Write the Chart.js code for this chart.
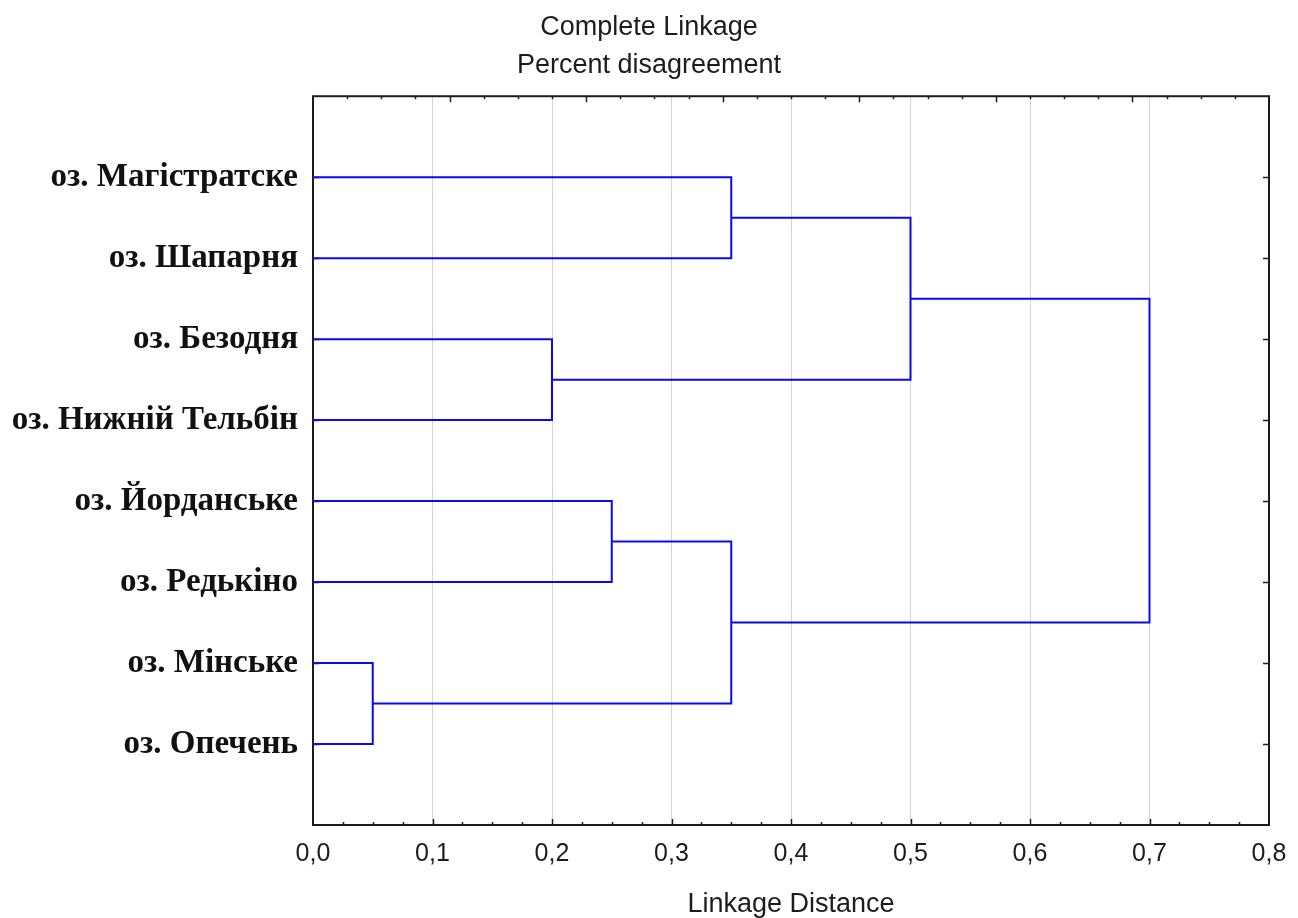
<!DOCTYPE html>
<html>
<head>
<meta charset="utf-8">
<script src="https://cdn.jsdelivr.net/npm/chart.js@4.4.1/dist/chart.umd.min.js"></script>
<style>
  html, body { margin: 0; padding: 0; background: #fff; }
  #wrap { width: 1298px; height: 918px; position: relative; }
</style>
</head>
<body>
<div id="wrap"><canvas id="dendro"></canvas></div>
<script>
// leaves, top to bottom (position 1..8 on the vertical axis)
const leaves = [
    'оз. Магістратске',
    'оз. Шапарня',
    'оз. Безодня',
    'оз. Нижній Тельбін',
    'оз. Йорданське',
    'оз. Редькіно',
    'оз. Мінське',
    'оз. Опечень'
];

// one entry per merge: height of the join, positions of the two branches,
// and the height each branch comes from
const mergeHeight     = [0.35, 0.20, 0.50, 0.25, 0.05, 0.35, 0.70];
const mergeUpperPos   = [1,    3,    1.5,  5,    7,    5.5,  2.5];
const mergeLowerPos   = [2,    4,    3.5,  6,    8,    7.5,  6.5];
const mergeUpperFrom  = [0,    0,    0.35, 0,    0,    0.25, 0.50];
const mergeLowerFrom  = [0,    0,    0.20, 0,    0,    0.05, 0.35];

const distanceTicks  = [0, 0.1, 0.2, 0.3, 0.4, 0.5, 0.6, 0.7, 0.8];
const distanceLabels = ['0,0', '0,1', '0,2', '0,3', '0,4', '0,5', '0,6', '0,7', '0,8'];
const topAxisMax = 7; // the frame's top ticks run on a 0..7 scale

const LINE_BLUE = '#0a0af0';
const INK = '#1c1c1c';
const SANS = "'Liberation Sans', Arial, sans-serif";

const datasets = mergeHeight.map((h, i) => ({
    data: [
        { x: mergeUpperFrom[i], y: mergeUpperPos[i] },
        { x: h, y: mergeUpperPos[i] },
        { x: h, y: mergeLowerPos[i] },
        { x: mergeLowerFrom[i], y: mergeLowerPos[i] }
    ],
    showLine: true,
    borderColor: LINE_BLUE,
    borderWidth: 2,
    pointRadius: 0,
    tension: 0,
    clip: false
}));

// frame + inward tick marks
const frameTicks = {
    id: 'frameTicks',
    beforeDatasetsDraw(chart) {
        const { ctx, chartArea: a, scales: { x, y } } = chart;
        const seg = (x1, y1, x2, y2) => {
            ctx.beginPath();
            ctx.moveTo(x1, y1);
            ctx.lineTo(x2, y2);
            ctx.stroke();
        };
        ctx.save();
        ctx.strokeStyle = INK;

        // bottom ticks: major every 0.1, minor every 0.025
        ctx.lineWidth = 1.5;
        for (let k = 1; k < 32; k++) {
            const px = Math.round(x.getPixelForValue(k * 0.025)) + 0.5;
            const len = k % 4 === 0 ? 6 : 3;
            seg(px, a.bottom, px, a.bottom - len);
        }
        // top ticks: 0..7 scale, minor every 0.25
        for (let k = 1; k < topAxisMax * 4; k++) {
            const v = (k / 4) * (x.max / topAxisMax);
            const px = Math.round(x.getPixelForValue(v)) + 0.5;
            const len = k % 4 === 0 ? 6 : 3;
            seg(px, a.top, px, a.top + len);
        }
        // left / right ticks at each leaf
        leaves.forEach((_, i) => {
            const py = Math.round(y.getPixelForValue(i + 1)) + 0.5;
            seg(a.left, py, a.left + 6, py);
            seg(a.right, py, a.right - 6, py);
        });

        // frame
        ctx.lineWidth = 2;
        ctx.strokeRect(a.left, a.top, a.right - a.left, a.bottom - a.top);
        ctx.restore();
    }
};

new Chart(document.getElementById('dendro'), {
    type: 'scatter',
    data: { datasets },
    options: {
        responsive: true,
        maintainAspectRatio: false,
        animation: false,
        layout: { padding: 0 },
        plugins: {
            legend: { display: false },
            tooltip: { enabled: false },
            title: {
                display: true,
                text: ['Complete Linkage', 'Percent disagreement'],
                color: INK,
                font: { family: SANS, size: 27, weight: 'normal', lineHeight: 1.43 },
                padding: { top: 8, bottom: 11 }
            }
        },
        scales: {
            x: {
                type: 'linear',
                min: 0,
                max: 0.8,
                afterBuildTicks: s => { s.ticks = distanceTicks.map(v => ({ value: v })); },
                afterFit: s => { s.height = 93; s.paddingLeft = 0; s.paddingRight = 0; },
                ticks: {
                    color: INK,
                    padding: 14,
                    maxRotation: 0,
                    font: { family: SANS, size: 25 },
                    callback: (v) => distanceLabels[distanceTicks.findIndex(t => Math.abs(t - v) < 1e-9)]
                },
                grid: {
                    drawTicks: false,
                    lineWidth: 1,
                    color: c => (c.tick && (c.tick.value === 0 || c.tick.value === 0.8)) ? 'rgba(0,0,0,0)' : '#d4d4d4'
                },
                border: { display: false },
                title: {
                    display: true,
                    text: 'Linkage Distance',
                    color: INK,
                    font: { family: SANS, size: 27, lineHeight: 1.0 },
                    padding: { top: 0, bottom: 0 }
                }
            },
            y: {
                type: 'linear',
                min: 0,
                max: 9,
                reverse: true,
                afterBuildTicks: s => { s.ticks = leaves.map((_, i) => ({ value: i + 1 })); },
                afterFit: s => { s.width = 313; },
                ticks: {
                    color: '#111',
                    padding: 15,
                    font: { family: "'Liberation Serif', 'Times New Roman', serif", size: 33, weight: 'bold' },
                    callback: (v) => leaves[v - 1]
                },
                grid: { display: false, drawTicks: false },
                border: { display: false }
            },
            // empty right-hand strip so the chart area ends where the frame does
            yRight: {
                type: 'linear',
                position: 'right',
                display: true,
                min: 0,
                max: 9,
                afterFit: s => { s.width = 29; },
                ticks: { display: false },
                grid: { display: false, drawTicks: false },
                border: { display: false }
            }
        }
    },
    plugins: [frameTicks]
});
</script>
</body>
</html>
